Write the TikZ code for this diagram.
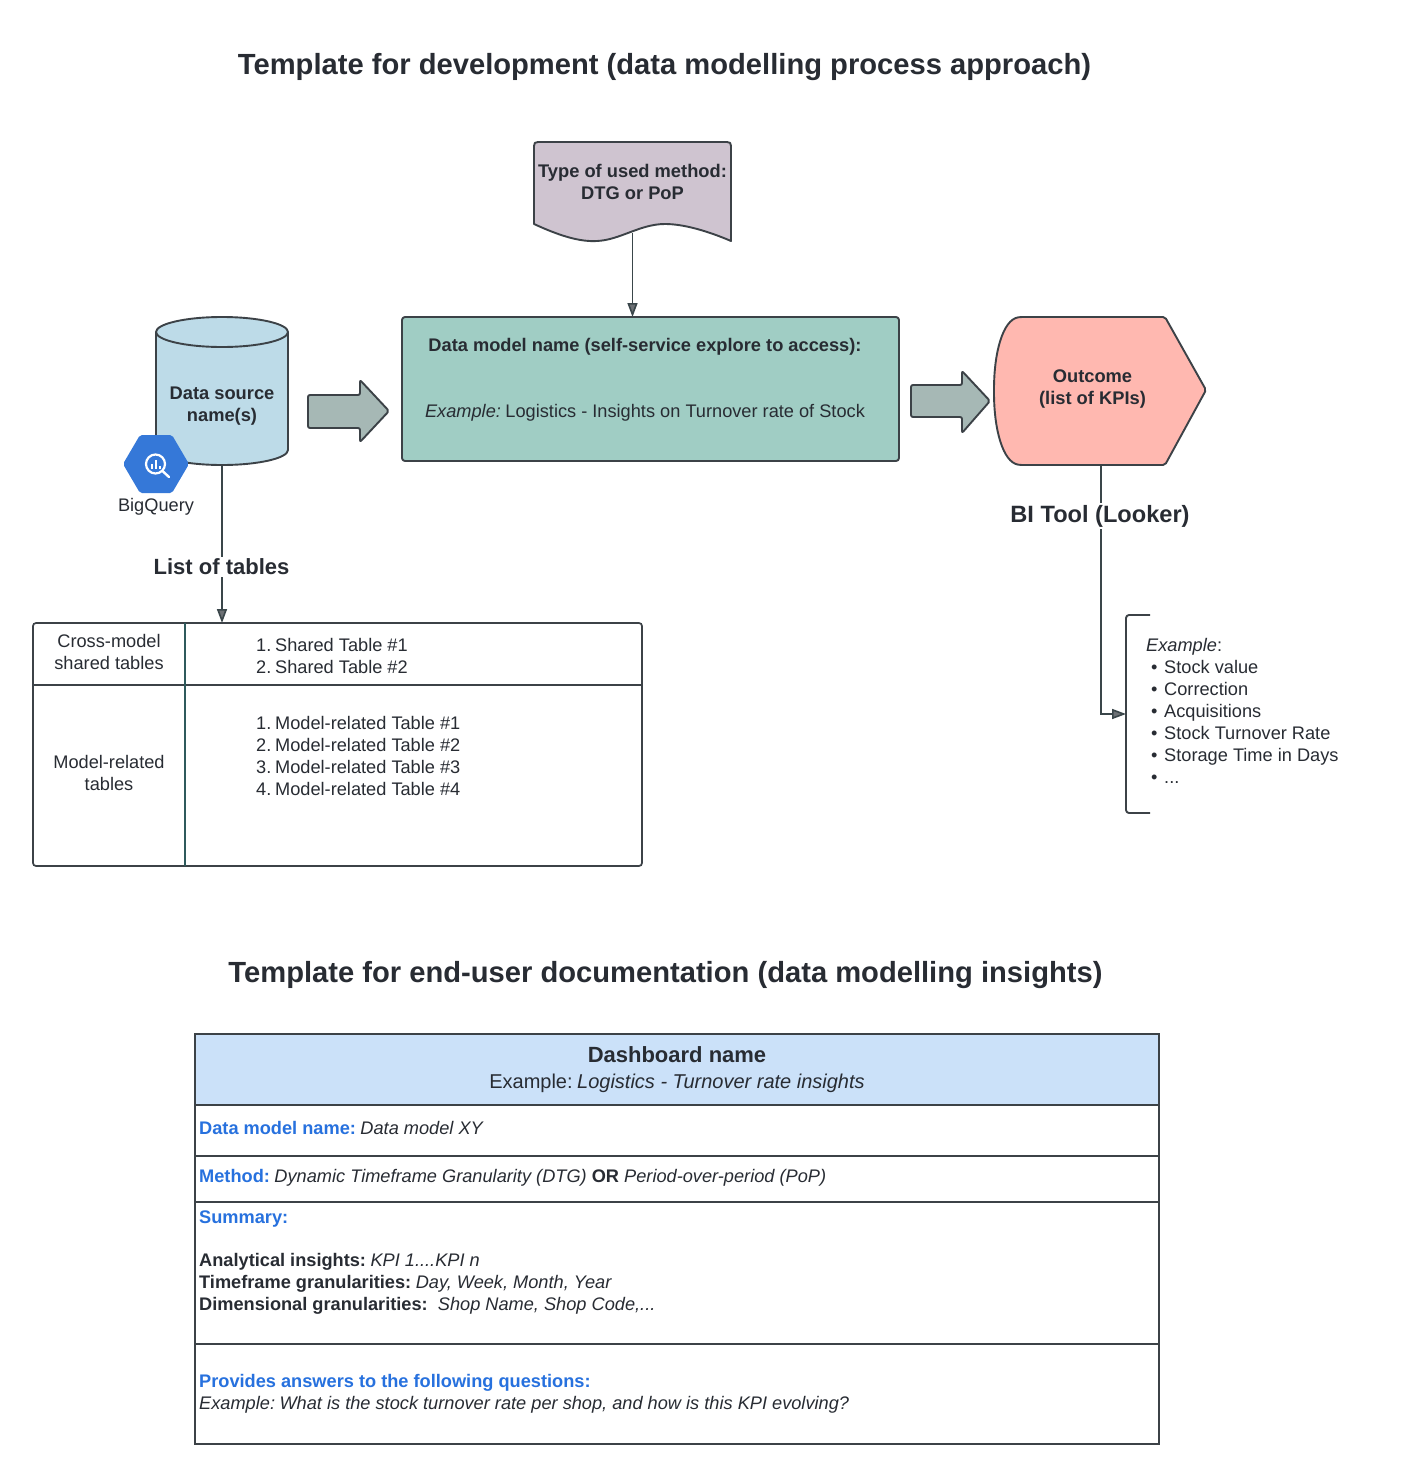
\documentclass[tikz,border=0pt]{standalone}
\usepackage{fontspec}
\setmainfont{Liberation Sans}
\usetikzlibrary{arrows.meta}
\definecolor{ink}{HTML}{282C33}
\definecolor{edge}{HTML}{3C4247}
\definecolor{cylfill}{HTML}{BDDBE8}
\definecolor{tealfill}{HTML}{A0CDC4}
\definecolor{pinkfill}{HTML}{FFB8B0}
\definecolor{purplefill}{HTML}{CFC4D0}
\definecolor{arrowfill}{HTML}{A6B8B5}
\definecolor{hexfill}{HTML}{3578D8}
\definecolor{headfill}{HTML}{CBE1F9}
\definecolor{bluetext}{HTML}{2771DE}
\definecolor{tealline}{HTML}{2F5A5C}
\newcommand{\fs}[1]{\fontsize{#1}{22}\selectfont}
\newcommand{\blue}[1]{\textcolor{bluetext}{\textbf{#1}}}
\newcommand{\numitem}[2]{\makebox[19pt][l]{#1.}#2}
\newcommand{\bulitem}[1]{\makebox[9pt][l]{\hspace{0pt}•}\hspace{4pt}#1}
\newcommand{\gap}{\hspace{4.5pt}}
\tikzset{
  x=1pt,y=-1pt,
  txt/.style={inner sep=0pt,text=ink,font=\fs{18.2}},
  title/.style={inner sep=0pt,text=ink,font=\fontsize{29.15}{36}\selectfont\bfseries},
  heading/.style={inner sep=2pt,text=ink,fill=white,font=\bfseries},
  shapeline/.style={draw=edge,line width=1.9pt,line join=round},
  tabline/.style={draw=edge,line width=1.7pt},
  conn/.style={draw=edge!85!tealline,line width=1.6pt,-{Triangle[length=14pt,width=10pt,fill=edge!75]}},
  anchorbox/.style={inner sep=0pt,align=center,text=ink},
  ghost/.style={inner sep=0pt,outer sep=0pt,anchor=north west},
}
\begin{document}
\begin{tikzpicture}
\useasboundingbox (0,0) rectangle (1400,1477);
\fill[white] (0,0) rectangle (1400,1477);

% titles
\node[title,anchor=center] (titleA) at (664.5,67.5) {Template for development (data modelling process approach)};
\node[title,anchor=center] (titleB) at (665.5,975) {Template for end-user documentation (data modelling insights)};

% layout boxes used as connector ends
\node[ghost,minimum width=197pt,minimum height=91pt] (doc) at (534,142) {};
\node[ghost,minimum width=132pt,minimum height=148pt] (cyl) at (156,317) {};
\node[ghost,minimum width=214pt,minimum height=148pt] (outbox) at (994,317) {};
\node[ghost,minimum width=609pt,minimum height=243pt] (tabA) at (33,623) {};
\node[ghost,minimum width=24pt,minimum height=198pt] (brk) at (1126,615) {};

% data model box
\node[shapeline,fill=tealfill,rounded corners=3pt,minimum width=497pt,minimum height=144pt,inner sep=0pt,outer sep=0pt,anchor=north west] (model) at (402,317) {};
\node[txt,anchor=center,font=\fs{18.25}\bfseries] (modelname) at (645,347) {Data model name (self-service explore to access):};
\node[txt,anchor=center] (modelex) at (645,413) {\textit{Example:}\gap Logistics - Insights on Turnover rate of Stock};

% connector document -> model, then the document shape over its start
\draw[conn] (doc.south) -- (doc.south |- model.north);
\path[shapeline,fill=purplefill] (534,224) -- (534,146) .. controls (534,143) and (535,142) .. (538,142) -- (727,142) .. controls (730,142) and (731,143) .. (731,146) -- (731,241) .. controls (710,232) and (685,224) .. (665,224) .. controls (640,224) and (620,240) .. (597,241) .. controls (580,242) and (560,236) .. (534,224) -- cycle;
\node[anchorbox,font=\fs{18.3}\bfseries] (doctext) at (632.5,182) {Type of used method:\\DTG or PoP};

% connector cylinder -> table, then the cylinder over its start
\draw[conn] (cyl.south) -- (cyl.south |- tabA.north);
\path[shapeline,fill=cylfill] (156,332) -- (156,450) .. controls (156,458) and (185,465) .. (222,465) .. controls (259,465) and (288,458) .. (288,450) -- (288,332) .. controls (288,324) and (259,317) .. (222,317) .. controls (185,317) and (156,324) .. (156,332) -- cycle;
\path[shapeline] (156,332) .. controls (156,340) and (185,347) .. (222,347) .. controls (259,347) and (288,340) .. (288,332);
\node[anchorbox,font=\fs{18.3}\bfseries] (cyltext) at (222,406.5) {Data source\\name(s)};
\node[heading,font=\fontsize{22}{26}\selectfont\bfseries] (lot) at (221.5,567) {List of tables};

% hexagon
\fill[hexfill,rounded corners=2pt] (123,464) -- (140,435) -- (172,435) -- (189,464) -- (172,493) -- (140,493) -- cycle;
\node[inner sep=0pt,minimum size=1pt] (hex) at (156,464) {};
\draw[white,line width=2.2pt] (155.5,464) circle (9.5pt);
\draw[white,line width=2.4pt,line cap=round] (162.5,471) -- (169,477);
\fill[white] (150.5,464) rectangle (152.5,468.5);
\fill[white] (154.5,460) rectangle (156.5,468.5);
\fill[white] (158.5,465.5) rectangle (160.5,468.5);
\node[txt] (bq) at (156,507) {BigQuery};

% block arrows
\path[shapeline,fill=arrowfill,rounded corners=2pt] (308,395) -- (360,395) -- (360,380) -- (389,411) -- (360,442) -- (360,428) -- (308,428) -- cycle;
\path[shapeline,fill=arrowfill,rounded corners=2pt] (911,385) -- (962,385) -- (962,371) -- (990,401) -- (962,433) -- (962,417) -- (911,417) -- cycle;

% connector outcome -> bracket, then the outcome shape over its start
\draw[conn] (outbox.south) -- (outbox.south |- brk.west) -- (brk.west);
\path[shapeline,fill=pinkfill,rounded corners=2pt] (1165,317) -- (1206,390) -- (1165,465) -- (1020,465) .. controls (1003,462) and (994,430) .. (994,391) .. controls (994,352) and (1003,320) .. (1020,317) -- cycle;
\node[anchorbox,font=\fs{18.3}\bfseries] (outcome) at (1092.5,389) {Outcome\\(list of KPIs)};
\node[heading,font=\fontsize{23.6}{28}\selectfont\bfseries] (bi) at (1100,516) {BI Tool (Looker)};

% table 1
\path[tabline,rounded corners=3pt] (33,623) rectangle (642,866);
\path[tabline] (33,685) -- (642,685);
\path[draw=tealline,line width=1.7pt] (185,623) -- (185,866);
\node[anchorbox,font=\fs{18.2}] (cellA) at (109,652) {Cross-model\\shared tables};
\node[anchorbox,font=\fs{18.2}] (cellB) at (109,773) {Model-related\\tables};
\node[txt,align=left,anchor=west] (listA) at (256,656) {\numitem{1}{Shared Table \#1}\\\numitem{2}{Shared Table \#2}};
\node[txt,align=left,anchor=west] (listB) at (256,755.5) {\numitem{1}{Model-related Table \#1}\\\numitem{2}{Model-related Table \#2}\\\numitem{3}{Model-related Table \#3}\\\numitem{4}{Model-related Table \#4}};

% bracket
\draw[shapeline,rounded corners=3pt] (1150,615) -- (1126,615) -- (1126,813) -- (1150,813);
\node[txt,align=left,anchor=west] (kpis) at (1146,711) {\textit{Example}:\\\hspace{5pt}\bulitem{Stock value}\\\hspace{5pt}\bulitem{Correction}\\\hspace{5pt}\bulitem{Acquisitions}\\\hspace{5pt}\bulitem{Stock Turnover Rate}\\\hspace{5pt}\bulitem{Storage Time in Days}\\\hspace{5pt}\bulitem{...}};

% table 2
\fill[headfill] (195,1034) rectangle (1159,1105);
\path[tabline] (195,1034) rectangle (1159,1444);
\path[tabline] (195,1105) -- (1159,1105);
\path[tabline] (195,1156) -- (1159,1156);
\path[tabline] (195,1202) -- (1159,1202);
\path[tabline] (195,1344) -- (1159,1344);
\node[anchorbox,font=\fontsize{22}{26}\selectfont\bfseries] (dash) at (677,1054.5) {Dashboard name};
\node[anchorbox,font=\fontsize{20}{24}\selectfont] (dashex) at (677,1083.5) {Example:\gap\textit{Logistics - Turnover rate insights}};
\node[txt,anchor=west] (r1) at (199,1128) {\blue{Data model name:}\gap\textit{Data model XY}};
\node[txt,anchor=west] (r2) at (199,1178) {\blue{Method:}\gap\textit{Dynamic Timeframe Granularity (DTG)} \textbf{OR} \textit{Period-over-period (PoP)}};
\node[txt,anchor=west] (r3) at (199,1219) {\blue{Summary:}};
\node[txt,align=left,anchor=west] (r4) at (199,1284) {\textbf{Analytical insights:}\gap\textit{KPI 1....KPI n}\\\textbf{Timeframe granularities:}\gap\textit{Day, Week, Month, Year}\\\textbf{Dimensional granularities:}\ \ \textit{Shop Name, Shop Code,...}};
\node[txt,align=left,anchor=west] (r5) at (199,1394) {\blue{Provides answers to the following questions:}\\\textit{Example:\gap What is the stock turnover rate per shop, and how is this KPI evolving?}};
\end{tikzpicture}
\end{document}
